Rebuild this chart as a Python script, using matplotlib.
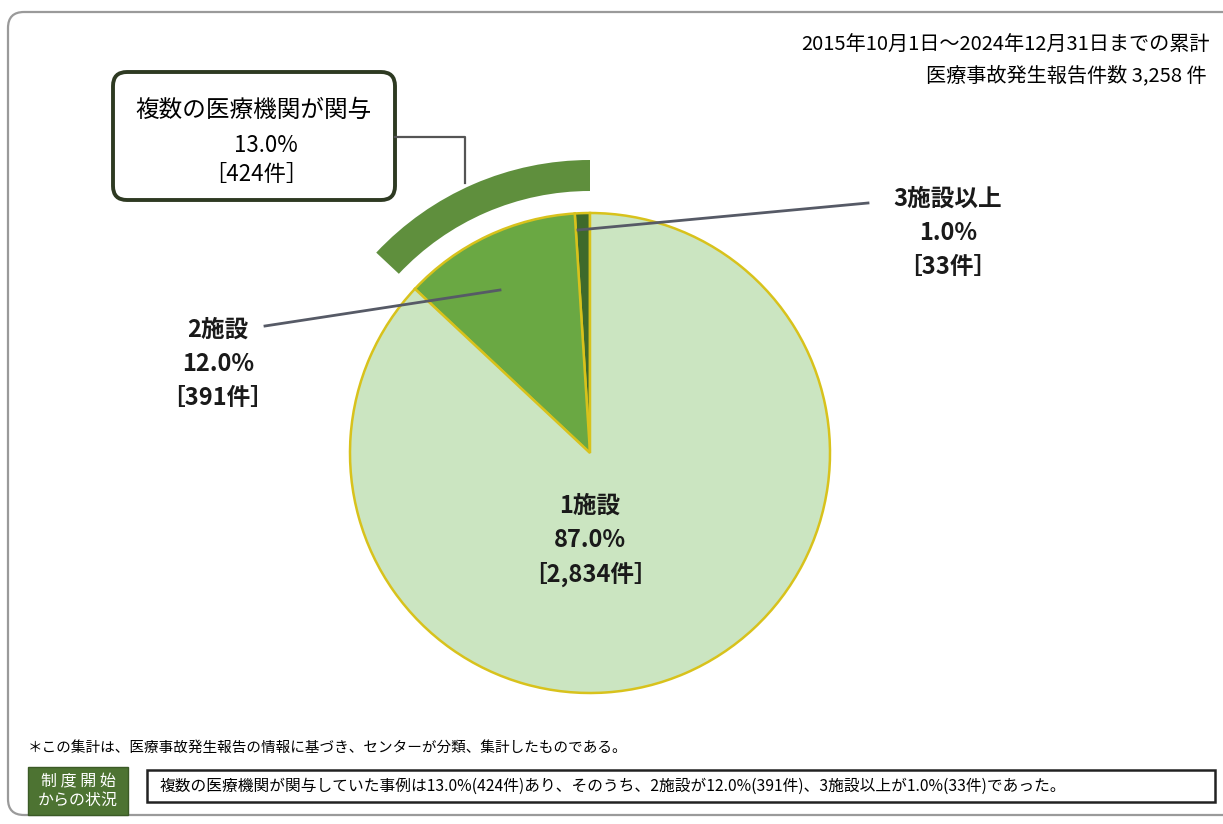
import matplotlib.pyplot as plt
from matplotlib.patches import FancyBboxPatch, Rectangle

plt.rcParams['font.family'] = ['Noto Sans CJK JP', 'DejaVu Sans']

# 医療機関の関与数別の件数
categories = ['3施設以上', '2施設', '1施設']
counts = [33, 391, 2834]
group_name = '複数の医療機関が関与'
period_text = '2015年10月1日～2024年12月31日までの累計'
note_text = '＊この集計は、医療事故発生報告の情報に基づき、センターが分類、集計したものである。'
badge_text = '制 度 開 始\nからの状況'

total = sum(counts)
multi = counts[0] + counts[1]


def pct(n):
    return f'{n / total * 100:.1f}%'


def ken(n):
    return f'［{n:,}件］'


W, H = 1223, 824
fig = plt.figure(figsize=(W / 100, H / 100), dpi=100)
ax = fig.add_axes([0, 0, 1, 1])

cx, cy, r = 590, H - 453, 240
colors = ['#3e6a2b', '#6aa843', '#cbe5c1']
ax.pie(counts, colors=colors, startangle=90, counterclock=True,
       center=(cx, cy), radius=r,
       wedgeprops=dict(edgecolor='#d8c21c', linewidth=1.8))

# 複数機関の外側の帯
ax.pie([multi, counts[2]], colors=['#5f8f3d', 'none'], startangle=90,
       counterclock=True, center=(cx, cy), radius=293,
       wedgeprops=dict(width=31, edgecolor='none'))

ax.set_xlim(0, W)
ax.set_ylim(0, H)
ax.set_aspect('equal')
ax.axis('off')

# 外枠
ax.add_patch(FancyBboxPatch((8, H - 815), 1240, 803,
                            boxstyle='round,pad=0,rounding_size=16',
                            fc='none', ec='#9a9a9a', lw=1.6))

# 右上の集計期間
ax.text(1210, H - 45, period_text, ha='right', va='center', fontsize=14.5)
ax.text(1207, H - 76, f'医療事故発生報告件数 {total:,} 件', ha='right',
        va='center', fontsize=14.5)

# 複数機関のコールアウト
ax.add_patch(FancyBboxPatch((113, H - 200), 282, 128,
                            boxstyle='round,pad=0,rounding_size=14',
                            fc='white', ec='#2e3a22', lw=2.8))
ax.text(254, H - 110, group_name, ha='center', va='center', fontsize=17)
ax.text(266, H - 145, pct(multi), ha='center', va='center', fontsize=16)
ax.text(256, H - 174, ken(multi), ha='center', va='center', fontsize=16)
ax.plot([395, 465, 465], [H - 137, H - 137, H - 183], color='#555555', lw=1.6)

# 各区分のラベル
lab_kw = dict(ha='center', va='center', fontsize=17, fontweight='bold',
              color='#1a1a1a')
label_pos = {
    '3施設以上': (948, H - 199),
    '2施設': (218, H - 330),
    '1施設': (590, H - 506),
}
for name, n in zip(categories, counts):
    x, y = label_pos[name]
    ax.text(x, y, name, **lab_kw)
    ax.text(x, y - 34, pct(n), **lab_kw)
    ax.text(x, y - 68, ken(n), **lab_kw)

ax.plot([868, 578], [H - 203, H - 230], color='#565a66', lw=2)
ax.plot([265, 500], [H - 326, H - 290], color='#565a66', lw=2)

# 脚注
ax.text(28, H - 748, note_text, ha='left', va='center', fontsize=10.5)

ax.add_patch(Rectangle((28, H - 815), 100, 48, fc='#4d7332', ec='#3b5a26',
                       lw=1))
ax.text(78, H - 791, badge_text, ha='center', va='center', fontsize=11.5,
        color='white', linespacing=1.15)

ax.add_patch(Rectangle((147, H - 802), 1068, 32, fc='white', ec='#222222',
                       lw=1.8))
summary = (f'{group_name}していた事例は{pct(multi)}({multi}件)あり、そのうち、'
           f'{categories[1]}が{pct(counts[1])}({counts[1]}件)、'
           f'{categories[0]}が{pct(counts[0])}({counts[0]}件)であった。')
ax.text(160, H - 786, summary, ha='left', va='center', fontsize=11.3)

fig.savefig('out.png', dpi=100, facecolor='white')
